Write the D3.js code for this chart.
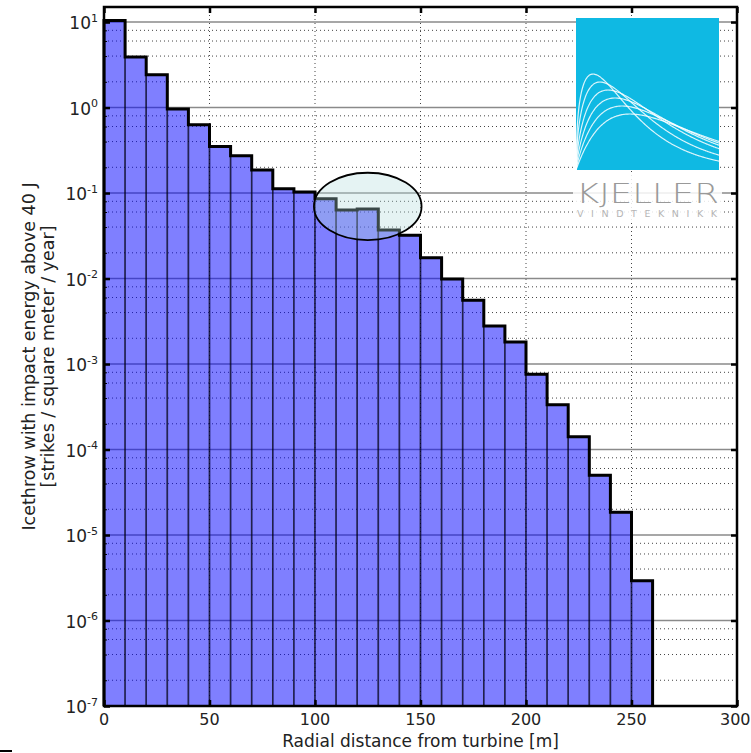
<!DOCTYPE html>
<html>
<head>
<meta charset="utf-8">
<script src="https://cdn.jsdelivr.net/npm/d3@7"></script>
<style>
  body { margin: 0; background: #fff; }
  svg { display: block; font-family: "DejaVu Sans", sans-serif; }
</style>
</head>
<body>
<svg id="chart" width="751" height="753"></svg>
<script>
"use strict";

// Left edge of every 10 m distance bin [m]
const binEdges = [0, 10, 20, 30, 40, 50, 60, 70, 80, 90, 100, 110, 120,
                  130, 140, 150, 160, 170, 180, 190, 200, 210, 220, 230, 240, 250];
const binWidth = 10;

// Icethrow strikes with impact energy above 40 J [strikes / m^2 / year]
const strikeRate = [10.4, 3.9, 2.42, 0.96, 0.63, 0.35, 0.273, 0.186, 0.112, 0.103,
                    0.0857, 0.0632, 0.065, 0.0369, 0.032, 0.0175, 0.00986, 0.00556,
                    0.00278, 0.00181, 0.000757, 0.000334, 0.000141, 0.0000499,
                    0.0000184, 0.00000292];

const xTicks = [0, 50, 100, 150, 200, 250, 300];
const yTickExponents = [-7, -6, -5, -4, -3, -2, -1, 0, 1];
const yMinorSubs = [2, 4, 6, 8];

// Highlighted region (data units)
const highlightX = [99.5, 150.5];
const highlightY = [0.0282, 0.1727];

const xDomain = [0, 300];
const yDomain = [1e-7, 15];

const plot = { left: 104, right: 737, top: 7, bottom: 706 };
const W = 751;

const svg = d3.select('#chart');

const x = d3.scaleLinear().domain(xDomain).range([plot.left, plot.right]);
const y = d3.scaleLog().domain(yDomain).range([plot.bottom, plot.top]);

const majorVals = yTickExponents.map(e => Math.pow(10, e));
const minorVals = [];
yTickExponents.forEach(function(e) {
    yMinorSubs.forEach(function(s) {
        const v = s * Math.pow(10, e);
        if (v <= yDomain[1]) { minorVals.push(v); }
    });
});

svg.append('defs').append('clipPath').attr('id', 'plotclip')
    .append('rect')
    .attr('x', plot.left).attr('y', plot.top)
    .attr('width', plot.right - plot.left).attr('height', plot.bottom - plot.top);

/**
 * Grid lines: dotted minor y and x lines, solid grey decades.
 */
const grid = svg.append('g').attr('class', 'grid');
grid.selectAll('line.minor')
    .data(minorVals)
    .enter().append('line')
        .attr('class', 'minor')
        .attr('x1', plot.left).attr('x2', plot.right)
        .attr('y1', d => y(d)).attr('y2', d => y(d))
        .attr('stroke', '#444')
        .attr('stroke-width', 1)
        .attr('stroke-dasharray', '1,3');
grid.selectAll('line.vx')
    .data(xTicks.slice(1, -1))
    .enter().append('line')
        .attr('class', 'vx')
        .attr('x1', d => x(d)).attr('x2', d => x(d))
        .attr('y1', plot.top).attr('y2', plot.bottom)
        .attr('stroke', '#444')
        .attr('stroke-width', 1)
        .attr('stroke-dasharray', '1,3');
grid.selectAll('line.major')
    .data(majorVals)
    .enter().append('line')
        .attr('class', 'major')
        .attr('x1', plot.left).attr('x2', plot.right)
        .attr('y1', d => y(d)).attr('y2', d => y(d))
        .attr('stroke', '#8a8a8a')
        .attr('stroke-width', 1.6);

/**
 * Histogram bars, semi transparent like matplotlib alpha=0.5
 */
const bars = svg.append('g').attr('clip-path', 'url(#plotclip)');
bars.selectAll('rect')
    .data(binEdges)
    .enter().append('rect')
        .attr('x', d => x(d))
        .attr('width', d => x(d + binWidth) - x(d))
        .attr('y', (d, i) => y(strikeRate[i]))
        .attr('height', (d, i) => plot.bottom - y(strikeRate[i]))
        .attr('fill', '#0000ff')
        .attr('fill-opacity', 0.5)
        .attr('stroke', '#000')
        .attr('stroke-opacity', 0.5)
        .attr('stroke-width', 1.6);

// Step outline around the histogram
const stepPts = [[binEdges[0], yDomain[0]]]
    .concat(binEdges.map((d, i) => [d, strikeRate[i]]))
    .concat([[binEdges[binEdges.length - 1] + binWidth, strikeRate[strikeRate.length - 1]],
             [binEdges[binEdges.length - 1] + binWidth, yDomain[0]]]);
const stepLine = d3.line()
    .x(d => x(d[0]))
    .y(d => y(d[1]))
    .curve(d3.curveStepAfter);
svg.append('path')
    .attr('d', stepLine(stepPts))
    .attr('fill', 'none')
    .attr('stroke', '#000')
    .attr('stroke-width', 3)
    .attr('stroke-linejoin', 'miter');

// Highlight ellipse
svg.append('ellipse')
    .attr('cx', (x(highlightX[0]) + x(highlightX[1])) / 2)
    .attr('cy', (y(highlightY[0]) + y(highlightY[1])) / 2)
    .attr('rx', (x(highlightX[1]) - x(highlightX[0])) / 2)
    .attr('ry', (y(highlightY[0]) - y(highlightY[1])) / 2)
    .attr('fill', '#b0dcdc')
    .attr('fill-opacity', 0.33)
    .attr('stroke', '#000')
    .attr('stroke-width', 1.8);

/**
 * Logo in the upper right corner
 */
function drawLogo() {
    const lx = 576, ly = 18, lw = 143, lh = 152;
    const logo = svg.append('g').attr('class', 'logo');
    logo.append('rect')
        .attr('x', lx).attr('y', ly).attr('width', lw).attr('height', lh)
        .attr('fill', '#0fb9e3');

    // decorative distribution curves
    const modes = [17, 24, 32, 39, 46, 54];
    const peaks = [96, 88, 80, 72, 64, 56];
    const shapes = [0.45, 0.56, 0.67, 0.78, 0.89, 1.0];
    const xs = d3.range(0, lw + 0.5, 1);
    const curve = d3.line()
        .x(d => lx + d[0])
        .y(d => ly + lh - d[1])
        .curve(d3.curveBasis);
    modes.forEach(function(m, i) {
        const pts = xs.map(function(t) {
            const r = Math.max(t, 0.001) / m;
            return [t, peaks[i] * Math.exp(shapes[i] * (Math.log(r) + 1 - r))];
        });
        logo.append('path')
            .attr('d', curve(pts))
            .attr('fill', 'none')
            .attr('stroke', '#fff')
            .attr('stroke-opacity', 0.85)
            .attr('stroke-width', 1.2);
    });

    logo.append('rect')
        .attr('x', lx - 3).attr('y', ly + lh + 2).attr('width', lw + 6).attr('height', 48)
        .attr('fill', '#fff').attr('fill-opacity', 0.85);
    logo.append('text')
        .attr('x', lx).attr('y', ly + lh + 33)
        .attr('textLength', lw).attr('lengthAdjust', 'spacingAndGlyphs')
        .attr('font-size', 27).attr('font-weight', 200)
        .attr('fill', '#999')
        .text('KJELLER');
    logo.append('text')
        .attr('x', lx + 1).attr('y', ly + lh + 46.5)
        .attr('textLength', lw - 3).attr('lengthAdjust', 'spacing')
        .attr('font-size', 9.5)
        .attr('fill', '#b5b5b5')
        .text('VINDTEKNIKK');
}
drawLogo();

/**
 * Axes: inward ticks on all four sides
 */
function styleTicks(g, width) {
    g.select('.domain').remove();
    g.selectAll('.tick line').attr('stroke', '#000').attr('stroke-width', width);
    g.selectAll('.tick text').remove();
}

svg.append('g').attr('transform', `translate(0,${plot.bottom})`)
    .call(d3.axisBottom(x).tickValues(xTicks).tickSize(-6).tickFormat(''))
    .call(g => styleTicks(g, 2.5));
svg.append('g').attr('transform', `translate(0,${plot.top})`)
    .call(d3.axisTop(x).tickValues(xTicks).tickSize(-6).tickFormat(''))
    .call(g => styleTicks(g, 2.5));
svg.append('g').attr('transform', `translate(${plot.left},0)`)
    .call(d3.axisLeft(y).tickValues(minorVals).tickSize(-3).tickFormat(''))
    .call(g => styleTicks(g, 1));
svg.append('g').attr('transform', `translate(${plot.left},0)`)
    .call(d3.axisLeft(y).tickValues(majorVals).tickSize(-6).tickFormat(''))
    .call(g => styleTicks(g, 2.5));
svg.append('g').attr('transform', `translate(${plot.right},0)`)
    .call(d3.axisRight(y).tickValues(majorVals).tickSize(-6).tickFormat(''))
    .call(g => styleTicks(g, 2.5));

// frame
svg.append('rect')
    .attr('x', plot.left).attr('y', plot.top)
    .attr('width', plot.right - plot.left).attr('height', plot.bottom - plot.top)
    .attr('fill', 'none').attr('stroke', '#000').attr('stroke-width', 2.5);

// x tick labels, last one kept inside the picture
svg.append('g').selectAll('text')
    .data(xTicks)
    .enter().append('text')
        .attr('x', d => x(d))
        .attr('y', plot.bottom + 19)
        .attr('text-anchor', 'middle')
        .attr('font-size', 16)
        .attr('fill', '#222')
        .text(d => d)
        .each(function() {
            const half = this.getComputedTextLength() / 2;
            const cx = +this.getAttribute('x');
            if (cx + half > W - 0.5) { this.setAttribute('x', W - 0.5 - half); }
        });

// y tick labels as 10^n
const ylab = svg.append('g').selectAll('text')
    .data(yTickExponents)
    .enter().append('text')
        .attr('x', 98)
        .attr('y', d => y(Math.pow(10, d)) + 7)
        .attr('text-anchor', 'end')
        .attr('font-size', 17)
        .attr('fill', '#222');
ylab.append('tspan').text('10');
ylab.append('tspan')
    .attr('dy', -7.5)
    .attr('font-size', 11)
    .text(d => String(d));

// axis titles
svg.append('text')
    .attr('x', (plot.left + plot.right) / 2)
    .attr('y', 746.5)
    .attr('text-anchor', 'middle')
    .attr('font-size', 17)
    .attr('fill', '#222')
    .text('Radial distance from turbine [m]');

const yTitle = ['Icethrow with impact energy above 40 J', '[strikes / square meter / year]'];
svg.append('g').selectAll('text')
    .data(yTitle)
    .enter().append('text')
        .attr('transform', (d, i) => `translate(${34.5 + i * 19},${(plot.top + plot.bottom) / 2}) rotate(-90)`)
        .attr('text-anchor', 'middle')
        .attr('font-size', 17.5)
        .attr('fill', '#222')
        .text(d => d);

// small stray mark at bottom left of the image
svg.append('rect')
    .attr('x', 0).attr('y', 750).attr('width', 12).attr('height', 2)
    .attr('fill', '#000');
</script>
</body>
</html>
